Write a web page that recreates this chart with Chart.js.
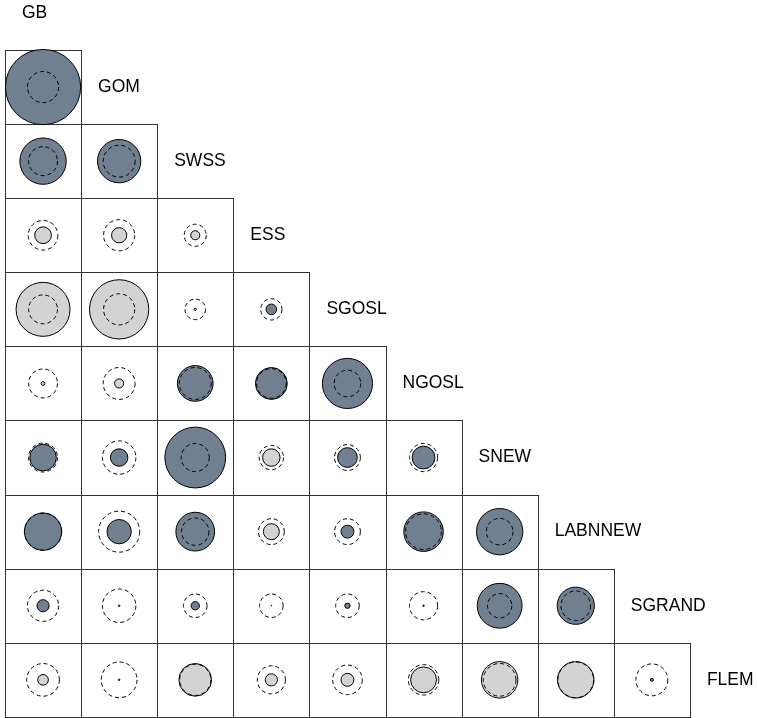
<!DOCTYPE html>
<html>
<head>
<meta charset="utf-8">
<title>Correlation matrix</title>
<script src="https://cdn.jsdelivr.net/npm/chart.js@4/dist/chart.umd.min.js"></script>
<style>
  html, body { margin: 0; padding: 0; background: #ffffff; }
  #wrap { width: 757px; height: 718px; }
  canvas { display: block; }
</style>
</head>
<body>
<div id="wrap"><canvas id="chart" width="757" height="718"></canvas></div>
<script>
// Regions, in matrix order
const variables = ['GB', 'GOM', 'SWSS', 'ESS', 'SGOSL', 'NGOSL', 'SNEW', 'LABNNEW', 'SGRAND', 'FLEM'];

// Lower triangle of coefficients: row k compares variables[k + 1] with variables[0..k]
const coefficients = [
  [0.99],
  [0.61, 0.57],
  [-0.22, -0.20, -0.12],
  [-0.71, -0.78, -0.03, 0.14],
  [-0.05, -0.12, 0.47, 0.42, 0.66],
  [0.35, 0.23, 0.80, -0.23, 0.26, 0.30],
  [0.49, 0.32, 0.51, -0.21, 0.17, 0.52, 0.61],
  [0.16, 0.02, 0.11, 0.01, 0.07, 0.02, 0.59, 0.49],
  [-0.14, 0.02, -0.43, -0.16, -0.17, -0.34, -0.48, -0.48, 0.04]
];

// Reference level for each pair, drawn as a dashed ring
const thresholds = [
  [0.41],
  [0.38, 0.42],
  [0.39, 0.41, 0.29],
  [0.38, 0.41, 0.27, 0.28],
  [0.38, 0.42, 0.42, 0.39, 0.35],
  [0.38, 0.44, 0.37, 0.32, 0.34, 0.37],
  [0.49, 0.54, 0.36, 0.34, 0.34, 0.47, 0.35],
  [0.41, 0.44, 0.31, 0.31, 0.31, 0.37, 0.32, 0.39],
  [0.43, 0.47, 0.41, 0.37, 0.39, 0.40, 0.43, 0.47, 0.42]
];

const POSITIVE = '#708090';
const NEGATIVE = '#d3d3d3';
const MAX_RADIUS = 38;   // a coefficient of 1 fills half a cell width

// Bubble controller that does not shrink the plot area to fit its largest bubble
class CellBubbleController extends Chart.BubbleController {
  getMaxOverflow() { return 0; }
}
CellBubbleController.id = 'cellBubble';
CellBubbleController.defaults = Chart.BubbleController.defaults;
CellBubbleController.overrides = Chart.BubbleController.overrides;
Chart.register(CellBubbleController);

const filledPoints = [];
const filledColors = [];
const ringPoints = [];
coefficients.forEach((row, k) => {
  row.forEach((value, col) => {
    const cx = col + 0.5;
    const cy = k + 0.5;
    filledPoints.push({ x: cx, y: cy, r: Math.abs(value) * MAX_RADIUS });
    filledColors.push(value >= 0 ? POSITIVE : NEGATIVE);
    ringPoints.push({ x: cx, y: cy, r: thresholds[k][col] * MAX_RADIUS });
  });
});

// Cell outlines and the variable names along the diagonal
const matrixFrame = {
  id: 'matrixFrame',
  beforeDatasetsDraw(chart) {
    const { ctx, scales: { x, y } } = chart;
    ctx.save();
    ctx.strokeStyle = '#333333';
    ctx.lineWidth = 1;
    coefficients.forEach((row, k) => {
      row.forEach((_, col) => {
        const x0 = Math.round(x.getPixelForValue(col)) + 0.5;
        const x1 = Math.round(x.getPixelForValue(col + 1)) + 0.5;
        const y0 = Math.round(y.getPixelForValue(k)) + 0.5;
        const y1 = Math.round(y.getPixelForValue(k + 1)) + 0.5;
        ctx.strokeRect(x0, y0, x1 - x0, y1 - y0);
      });
    });
    ctx.fillStyle = '#000000';
    ctx.font = '17.5px "Liberation Sans", Arial, sans-serif';
    ctx.textAlign = 'left';
    ctx.textBaseline = 'middle';
    variables.forEach((name, idx) => {
      const px = x.getPixelForValue(idx) + 17;
      const py = y.getPixelForValue(idx - 0.5);
      ctx.fillText(name, px, py);
    });
    ctx.restore();
  },
  beforeDatasetDraw(chart, args) {
    if (chart.data.datasets[args.index].dashed) {
      chart.ctx.setLineDash([4, 3]);
    }
  },
  afterDatasetDraw(chart, args) {
    if (chart.data.datasets[args.index].dashed) {
      chart.ctx.setLineDash([]);
    }
  }
};

new Chart(document.getElementById('chart'), {
  type: 'cellBubble',
  data: {
    datasets: [
      {
        label: 'threshold',
        data: ringPoints,
        dashed: true,
        order: 0,
        backgroundColor: 'rgba(0,0,0,0)',
        borderColor: '#000000',
        borderWidth: 1
      },
      {
        label: 'coefficient',
        data: filledPoints,
        order: 1,
        backgroundColor: filledColors,
        borderColor: '#000000',
        borderWidth: 1
      }
    ]
  },
  options: {
    responsive: false,
    animation: false,
    events: [],
    layout: { padding: 0 },
    plugins: {
      legend: { display: false },
      tooltip: { enabled: false }
    },
    scales: {
      x: {
        type: 'linear',
        display: false,
        min: -5 / 76.1,
        max: 752 / 76.1
      },
      y: {
        type: 'linear',
        display: false,
        reverse: true,
        min: -50 / 74.1,
        max: 668 / 74.1
      }
    }
  },
  plugins: [matrixFrame]
});
</script>
</body>
</html>
